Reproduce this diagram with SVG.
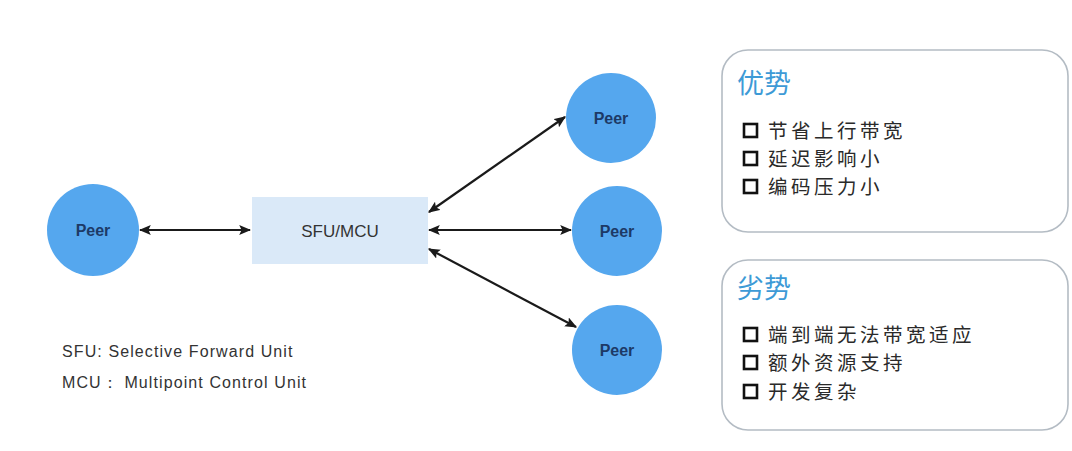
<svg xmlns="http://www.w3.org/2000/svg" width="1072" height="451" viewBox="0 0 1072 451">
<defs>
<style>
.peer{fill:#55a7ee;}
.peerText{font-family:"Liberation Sans",Arial,sans-serif;font-size:16px;font-weight:bold;fill:#1d3a66;text-anchor:middle;}
.conn{stroke:#1a1a1a;stroke-width:2.2;fill:none;marker-start:url(#ah);marker-end:url(#ah);}
.panel{fill:#ffffff;stroke:#b4bcc4;stroke-width:1.6;}
.title{font-family:"Noto Sans CJK SC",sans-serif;font-size:27px;fill:#3d9ad6;}
.item{font-family:"Noto Sans CJK SC",sans-serif;font-size:19.5px;letter-spacing:3.5px;fill:#2a2a2a;}
.box{fill:none;stroke:#111;stroke-width:2.6;}
.legend{font-family:"Liberation Sans",Arial,sans-serif;font-size:16px;letter-spacing:1.1px;fill:#333;}
</style>
<marker id="ah" viewBox="0 0 10 10" refX="9" refY="5" markerWidth="12" markerHeight="10" orient="auto-start-reverse" markerUnits="userSpaceOnUse" preserveAspectRatio="none">
<path d="M0,0 L10,5 L0,10 L2,5 Z" fill="#1a1a1a"/>
</marker>
</defs>
<rect width="1072" height="451" fill="#ffffff"/>

<g id="connectors">
<line class="conn" x1="140" y1="230" x2="250" y2="230"/>
<line class="conn" x1="429" y1="212" x2="565" y2="117"/>
<line class="conn" x1="429" y1="230" x2="571" y2="230"/>
<line class="conn" x1="429" y1="249" x2="576" y2="327"/>
</g>

<g id="peer-left">
<circle class="peer" cx="93" cy="230" r="46"/>
<text class="peerText" x="93" y="236">Peer</text>
</g>
<g id="sfu">
<rect x="252" y="197" width="176" height="67" fill="#dae9f8"/>
<text x="340" y="237" style="font-family:'Liberation Sans',Arial,sans-serif;font-size:17px;fill:#333;text-anchor:middle">SFU/MCU</text>
</g>
<g id="peer-top">
<circle class="peer" cx="611" cy="118" r="45"/>
<text class="peerText" x="611" y="124">Peer</text>
</g>
<g id="peer-mid">
<circle class="peer" cx="617" cy="231" r="45"/>
<text class="peerText" x="617" y="237">Peer</text>
</g>
<g id="peer-bottom">
<circle class="peer" cx="617" cy="350" r="45"/>
<text class="peerText" x="617" y="356">Peer</text>
</g>

<g id="legend">
<text class="legend" x="62" y="357">SFU: Selective Forward Unit</text>
<text class="legend" x="62" y="388">MCU：  Multipoint Control Unit</text>
</g>

<g id="advantages">
<rect class="panel" x="722" y="50" width="346" height="182" rx="26"/>
<text class="title" x="737" y="93">优势</text>
<rect class="box" x="744" y="124" width="13" height="13"/>
<text class="item" x="768" y="138">节省上行带宽</text>
<rect class="box" x="744" y="152" width="13" height="13"/>
<text class="item" x="768" y="166">延迟影响小</text>
<rect class="box" x="744" y="180" width="13" height="13"/>
<text class="item" x="768" y="194">编码压力小</text>
</g>

<g id="disadvantages">
<rect class="panel" x="722" y="260" width="346" height="170" rx="26"/>
<text class="title" x="737" y="298">劣势</text>
<rect class="box" x="744" y="328" width="13" height="13"/>
<text class="item" x="768" y="342">端到端无法带宽适应</text>
<rect class="box" x="744" y="356" width="13" height="13"/>
<text class="item" x="768" y="370">额外资源支持</text>
<rect class="box" x="744" y="385" width="13" height="13"/>
<text class="item" x="768" y="399">开发复杂</text>
</g>
</svg>
